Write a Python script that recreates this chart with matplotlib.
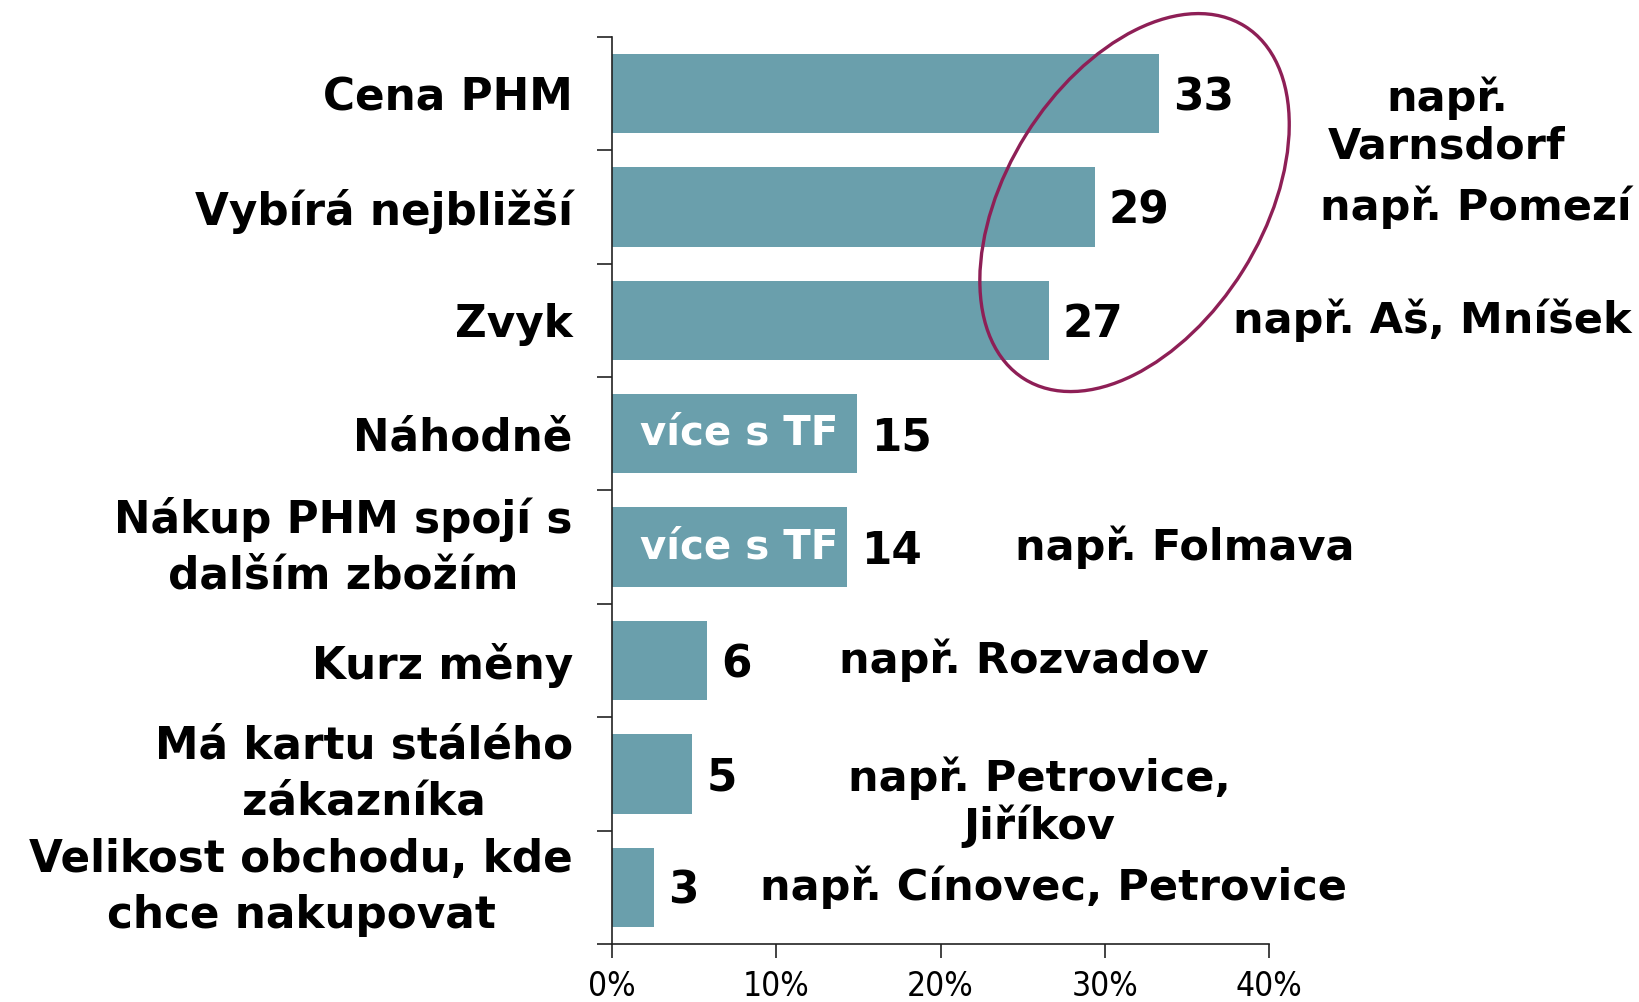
# Důvody výběru čerpací stanice - horizontální sloupcový graf
import matplotlib.pyplot as plt
from matplotlib.patches import Ellipse
from matplotlib.transforms import ScaledTranslation

plt.rcParams["font.family"] = ["DejaVu Sans"]

categories = [
    "Cena PHM",
    "Vybírá nejbližší",
    "Zvyk",
    "Náhodně",
    "Nákup PHM spojí s\ndalším zbožím",
    "Kurz měny",
    "Má kartu stálého\nzákazníka",
    "Velikost obchodu, kde\nchce nakupovat",
]
values = [33.3, 29.4, 26.6, 14.9, 14.3, 5.8, 4.9, 2.6]
value_labels = ["33", "29", "27", "15", "14", "6", "5", "3"]
inside_labels = ["", "", "", "více s TF", "více s TF", "", "", ""]
notes = [
    "např.\nVarnsdorf",
    "např. Pomezí",
    "např. Aš, Mníšek",
    "",
    "např. Folmava",
    "např. Rozvadov",
    "např. Petrovice,\nJiříkov",
    "např. Cínovec, Petrovice",
]
note_x = [50.8, 43.1, 37.8, 0, 24.5, 13.8, 26.0, 9.0]
x_ticks = [0, 10, 20, 30, 40]
x_tick_labels = ["0%", "10%", "20%", "30%", "40%"]

BAR_COLOR = "#6A9FAC"
RING_COLOR = "#8E1F56"
FS = 31.5

fig = plt.figure(figsize=(16.4, 10.02), dpi=100)
ax = fig.add_axes([0.373, 0.058, 0.401, 0.905])

pos = list(range(len(categories)))
ax.barh(pos, values, height=0.7, color=BAR_COLOR)
ax.set_xlim(0, 40)
ax.set_ylim(len(categories) - 0.5, -0.5)

for spine in ["top", "right"]:
    ax.spines[spine].set_visible(False)
for spine in ["left", "bottom"]:
    ax.spines[spine].set_color("#222222")
    ax.spines[spine].set_linewidth(1.2)

# y osa: čárky na hranicích kategorií, popisky uprostřed
ax.set_yticks([p - 0.5 for p in pos] + [len(pos) - 0.5])
ax.set_yticklabels([])
ax.tick_params(axis="y", which="major", length=11, width=1.2, color="#222222")
ax.set_yticks(pos, minor=True)
ax.set_yticklabels(categories, minor=True, fontsize=FS, fontweight="bold")
ax.tick_params(axis="y", which="minor", length=0, pad=28)
for lab in ax.get_yticklabels(minor=True):
    lab.set_multialignment("center")
    if "\n" in lab.get_text():
        lab.set_linespacing(1.38)
        lab.set_verticalalignment("center")

ax.set_xticks(x_ticks)
ax.set_xticklabels(x_tick_labels, fontsize=24, fontstretch="condensed")
ax.tick_params(axis="x", length=10, width=1.2, color="#222222", pad=9)

for i, v in enumerate(values):
    ax.annotate(value_labels[i], (v, i), xytext=(10, -3),
                textcoords="offset points", va="center", ha="left",
                fontsize=FS, fontweight="bold")
    if inside_labels[i]:
        ax.text(1.7, i, inside_labels[i], va="center", ha="left",
                fontsize=29, fontweight="bold", color="white")
    if notes[i]:
        if "\n" in notes[i]:
            ax.text(note_x[i], i + 0.25, notes[i], va="center", ha="center",
                    fontsize=31, fontweight="bold", linespacing=1.15,
                    clip_on=False)
        else:
            ax.text(note_x[i], i, notes[i], va="center", ha="left",
                    fontsize=31, fontweight="bold", clip_on=False)

# ovál kolem tří nejčastějších důvodů
ring_trans = fig.dpi_scale_trans + ScaledTranslation(31.8, 0.96, ax.transData)
ring = Ellipse((0, 0), 4.16, 2.56, angle=58, transform=ring_trans,
               fill=False, edgecolor=RING_COLOR, linewidth=2.4, clip_on=False)
ax.add_artist(ring)

fig.savefig("out.png", dpi=100)
